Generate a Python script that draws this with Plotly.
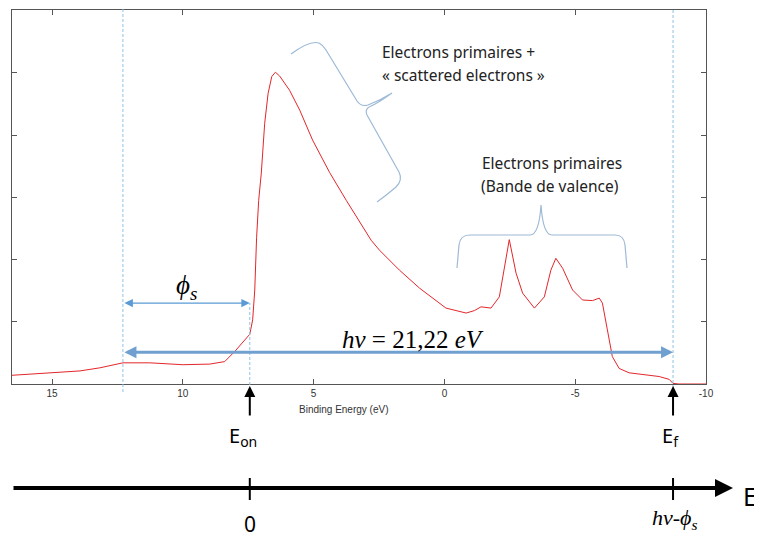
import plotly.graph_objects as go

# ---- data ----
binding_energy = [16.53, 15.0, 13.93, 13.17, 12.29, 11.26, 10.0, 8.97, 8.40, 8.02, 7.63, 7.44,
                  7.33, 7.25, 7.18, 7.10, 7.00, 6.87, 6.74, 6.60, 6.46, 6.30, 5.92, 5.53, 5.04,
                  4.39, 3.75, 2.80, 2.48, 1.72, 0.95, 0.38, -0.06, -0.83, -1.15, -1.40, -1.78,
                  -2.10, -2.29, -2.48, -2.74, -2.99, -3.44, -3.82, -4.07, -4.26, -4.52, -4.90,
                  -5.28, -5.66, -5.92, -6.04, -6.23, -6.42, -6.68, -7.06, -8.21, -8.59, -8.74,
                  -8.97, -10.0]
intensity = [0.14, 0.18, 0.21, 0.26, 0.34, 0.34, 0.31, 0.32, 0.36, 0.52, 0.71, 0.80,
             1.03, 1.51, 2.35, 2.95, 3.39, 4.19, 4.67, 4.94, 5.01, 4.95, 4.72, 4.40, 3.92,
             3.40, 2.95, 2.31, 2.15, 1.83, 1.54, 1.36, 1.22, 1.14, 1.18, 1.24, 1.22,
             1.40, 1.88, 2.32, 1.78, 1.46, 1.22, 1.40, 1.83, 2.02, 1.86, 1.51,
             1.35, 1.34, 1.38, 1.30, 0.87, 0.44, 0.25, 0.18, 0.12, 0.075, 0.01,
             0.0, 0.0]
x_tickvals = [15, 10, 5, 0, -5, -10]
x_ticktext = ["15", "10", "5", "0", "-5", "-10"]
y_tickvals = [1, 2, 3, 4, 5]

E_ON = 7.44        # onset (secondary cutoff)
E_F = -8.74        # Fermi edge
E_VAC = 12.29      # left reference line
PHI_Y = 1.30
HNU_Y = 0.51

# ---- layout helpers (page pixels -> paper fractions) ----
OFF = 8                       # browser default body margin
PAGE_W, PAGE_H = 762, 539
PL, PT, PR, PB = 12, 10, 706, 384   # plot area edges in page pixels
W, H = PAGE_W - OFF, PAGE_H - OFF
L, T = PL - OFF, PT - OFF
R, B = W - (PR - OFF), H - (PB - OFF)
PW, PH = PR - PL, PB - PT


def xp(px):
    return (px - PL) / PW


def yp(py):
    return (PB - py) / PH


def path_from(cmds):
    out = []
    for c in cmds:
        if isinstance(c, str):
            out.append(c)
        else:
            out.append(f"{xp(c[0]):.5f},{yp(c[1]):.5f}")
    return " ".join(out)


fig = go.Figure()
fig.add_trace(go.Scatter(x=binding_energy, y=intensity, mode="lines",
                         line=dict(color="#e3262b", width=1), showlegend=False,
                         hoverinfo="skip"))

BLUE_D = "#8cc4e3"
BLUE_A = "#5b9bd5"
BRACE = "#9dbad6"

shapes = []
# dashed reference lines
shapes.append(dict(type="line", xref="x", yref="paper", x0=E_VAC, x1=E_VAC,
                   y0=yp(392), y1=yp(0), line=dict(color=BLUE_D, width=1, dash="3px,2px")))
shapes.append(dict(type="line", xref="x", yref="paper", x0=E_F, x1=E_F,
                   y0=yp(388), y1=yp(0), line=dict(color=BLUE_D, width=1, dash="3px,2px")))
shapes.append(dict(type="line", xref="x", yref="paper", x0=E_ON, x1=E_ON,
                   y0=yp(390), y1=yp(303), line=dict(color=BLUE_D, width=1, dash="3px,2px")))

# brace 1 (tilted)
b1 = ["M", (291, 54), "Q", (310, 40), (319, 43), "Q", (323, 45), (326, 50),
      "L", (357, 101), "Q", (361, 107), (368, 105), "Q", (381, 100), (392, 93),
      "Q", (378, 103), (371, 106), "Q", (364, 109), (367, 115),
      "L", (399, 172), "Q", (403, 180), (396, 187), "Q", (388, 194), (377, 202)]
shapes.append(dict(type="path", xref="paper", yref="paper", path=path_from(b1),
                   line=dict(color=BRACE, width=1.2)))
# brace 2 (horizontal)
b2 = ["M", (457, 268), "L", (459, 245), "Q", (460, 235), (470, 235), "L", (530, 235),
      "Q", (539, 235), (541, 205), "Q", (543, 235), (552, 235), "L", (615, 235),
      "Q", (624, 235), (625, 245), "L", (627, 268)]
shapes.append(dict(type="path", xref="paper", yref="paper", path=path_from(b2),
                   line=dict(color=BRACE, width=1.2)))

# ticks on the kinetic-energy axis
for xv in (E_ON, E_F):
    shapes.append(dict(type="line", xref="x", yref="paper", x0=xv, x1=xv,
                       y0=yp(500), y1=yp(478), line=dict(color="black", width=2)))

ann = []


def label(x, y, text, font, xref="paper", xanchor="center"):
    ann.append(dict(x=x, y=y, xref=xref, yref="paper", xanchor=xanchor, yanchor="middle",
                    showarrow=False, text=text, font=font))


SERIF = "Liberation Serif, DejaVu Serif"
SANS = "Noto Sans, Liberation Sans"

# phi_s double arrow
ann.append(dict(x=E_ON, y=PHI_Y, ax=E_VAC, ay=PHI_Y, xref="x", yref="y", axref="x", ayref="y",
                text="", showarrow=True, arrowside="end+start", arrowhead=2, arrowsize=1.3,
                arrowwidth=1.3, arrowcolor=BLUE_A, standoff=0, startstandoff=0))
label((E_ON + E_VAC) / 2, yp(287), "<i>ϕ</i><sub><i>s</i></sub>",
      dict(family=SERIF, size=27, color="black"), xref="x")
# hv double arrow
ann.append(dict(x=E_F, y=HNU_Y, ax=E_VAC, ay=HNU_Y, xref="x", yref="y", axref="x", ayref="y",
                text="", showarrow=True, arrowside="end+start", arrowhead=2, arrowsize=0.8,
                arrowwidth=3, arrowcolor="#6fa0cf", standoff=0, startstandoff=0))
label(xp(413), yp(339), "<i>hν</i> = 21,22 <i>eV</i>", dict(family=SERIF, size=25, color="black"))

TXT = dict(family="Noto Sans, Lato", size=15.5, color="#222222")
label(xp(380), yp(52), "Electrons primaires +", TXT, xanchor="left")
label(xp(380), yp(75), "« scattered electrons »", TXT, xanchor="left")
label(xp(552), yp(163), "Electrons primaires", TXT)
label(xp(550), yp(186), "(Bande de valence)", TXT)

# axis title
label(xp(344), yp(409), "Binding Energy (eV)",
      dict(family="Liberation Sans, Arial", size=10, color="#333333"))

# E_on / E_f arrows
for xv, lab in ((E_ON, "E<sub>on</sub>"), (E_F, "E<sub>f</sub>")):
    ann.append(dict(x=xv, y=yp(386), xref="x", yref="paper", ax=0, ay=31,
                    text="", showarrow=True, arrowhead=2, arrowsize=1.1, arrowwidth=2,
                    arrowcolor="black", standoff=0))
    label(xv + 0.25 if lab.endswith("on</sub>") else xv + 0.1, yp(436), lab,
          dict(family=SANS, size=20, color="black"), xref="x")

# kinetic energy axis
ann.append(dict(x=xp(733), y=yp(488), xref="paper", yref="paper", ax=-721, ay=0,
                text="", showarrow=True, arrowhead=2, arrowsize=0.9, arrowwidth=4,
                arrowcolor="black", standoff=0))
label(xp(741), yp(498), "E<sub>k</sub>", dict(family=SANS, size=25, color="black"),
      xanchor="left")
label(E_ON, yp(524), "0", dict(family=SANS, size=21, color="black"), xref="x")
label(E_F - 0.05, yp(519), "<i>hν</i>-<i>ϕ</i><sub><i>s</i></sub>",
      dict(family=SERIF, size=22, color="black"), xref="x")

fig.update_layout(
    width=W, height=H,
    margin=dict(l=L, r=R, t=T, b=B, pad=0, autoexpand=False),
    paper_bgcolor="white", plot_bgcolor="white",
    shapes=shapes, annotations=ann,
    xaxis=dict(range=[16.53, -10.0], tickvals=x_tickvals, ticktext=x_ticktext,
               showline=True, mirror="ticks", linecolor="#555555", linewidth=1,
               ticks="inside", ticklen=5, tickcolor="#555555", showgrid=False, zeroline=False,
               tickfont=dict(family="Liberation Sans, Arial", size=10, color="#333333")),
    yaxis=dict(range=[0, 6.01], tickvals=y_tickvals, showticklabels=False,
               showline=True, mirror="ticks", linecolor="#555555", linewidth=1,
               ticks="inside", ticklen=5, tickcolor="#555555", showgrid=False, zeroline=False),
)

fig.write_html("out.html")
